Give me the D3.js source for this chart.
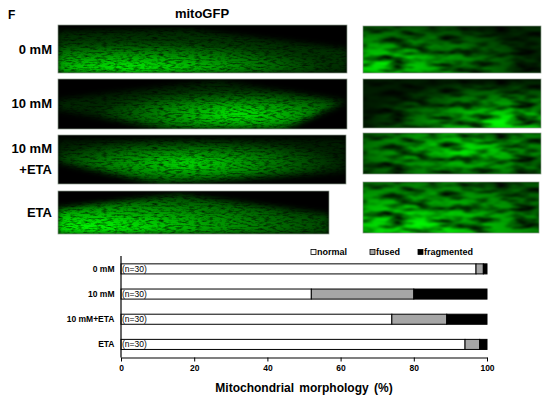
<!DOCTYPE html>
<html>
<head>
<meta charset="utf-8">
<script src="https://cdn.jsdelivr.net/npm/d3@7"></script>
<style>
  html, body { margin: 0; padding: 0; background: #fff; }
  svg { display: block; }
</style>
</head>
<body>
<div id="chart"></div>
<script>
// ---- chart data ----
const categories = ["0 mM", "10 mM", "10 mM+ETA", "ETA"];
const normal = [97, 52, 74, 94];
const fused = [2, 28, 15, 4];
const fragmented = [1, 20, 11, 2];
const nLabels = ["(n=30)", "(n=30)", "(n=30)", "(n=30)"];
const seriesNames = ["normal", "fused", "fragmented"];
const seriesColors = ["#ffffff", "#a6a6a6", "#000000"];
const xTicks = [0, 20, 40, 60, 80, 100];

// panel row labels of the micrograph part
const rowLabels = [["0 mM"], ["10 mM"], ["10 mM", "+ETA"], ["ETA"]];

(function () {
  "use strict";
  const W = 550, H = 401;
  const FONT = "'Liberation Sans', Arial, Helvetica, sans-serif";

  const svg = d3.select("#chart").append("svg")
    .attr("width", W).attr("height", H);
  const defs = svg.append("defs");

  // ---- micrograph look-alikes (decoration, not data) ----
  // soft edges + striated noise multiplied into the green glow
  function texFilter(id, freq, seed, gain, off, edge, blur) {
    const f = defs.append("filter").attr("id", id)
      .attr("x", "-5%").attr("y", "-5%").attr("width", "110%").attr("height", "110%")
      .attr("color-interpolation-filters", "sRGB");
    f.append("feGaussianBlur").attr("in", "SourceGraphic").attr("stdDeviation", edge).attr("result", "soft");
    f.append("feTurbulence").attr("type", "fractalNoise")
      .attr("baseFrequency", freq).attr("numOctaves", 3).attr("seed", seed).attr("result", "noise");
    f.append("feColorMatrix").attr("in", "noise").attr("type", "matrix")
      .attr("values", `0 0 0 0 0  ${gain} 0 0 0 ${off}  0 0 0 0 0  0 0 0 0 1`).attr("result", "g");
    f.append("feComposite").attr("in", "soft").attr("in2", "g")
      .attr("operator", "arithmetic").attr("k1", 1).attr("result", "mul");
    f.append("feGaussianBlur").attr("in", "mul").attr("stdDeviation", blur);
  }
  texFilter("texCell", "0.16 0.55", 3, 1.6, 0.1, 3, 0.6);
  texFilter("texZoom", "0.04 0.17", 7, 2.6, -0.6, 1.5, 1.0);

  const panels = [
    // whole cells
    { x: 58, y: 25, w: 289, h: 48, tex: "texCell", poly: [[0, 0.14], [0.45, 0.1], [1, 0.5], [1, 1], [0, 1]], c: [0.25, 0.95], r: 0.7, inner: "#30ff30", outer: "#06300a" },
    { x: 58, y: 79, w: 289, h: 50, tex: "texCell", poly: [[0, 0.42], [0.55, 0.03], [1, 0.45], [0.78, 1], [0.38, 1], [0, 0.62]], c: [0.62, 0.7], r: 0.5, inner: "#2ef02e", outer: "#062606" },
    { x: 58, y: 135, w: 288, h: 49, tex: "texCell", poly: [[0, 0.1], [1, 0.08], [1, 0.75], [0.36, 1], [0, 0.55]], c: [0.45, 0.55], r: 0.55, inner: "#28e028", outer: "#041e04" },
    { x: 58, y: 191, w: 271, h: 43, tex: "texCell", poly: [[0, 0.42], [0.45, 0.08], [1, 0.55], [1, 1], [0, 1]], c: [0.12, 0.85], r: 0.85, inner: "#30ff30", outer: "#0a4a0a" },
    // zoomed details
    { x: 363, y: 26, w: 178, h: 47, tex: "texZoom", poly: null, c: [0.15, 0.75], r: 0.8, inner: "#30f030", outer: "#062a06" },
    { x: 363, y: 79, w: 178, h: 49, tex: "texZoom", poly: null, c: [0.75, 0.8], r: 0.7, inner: "#32ff32", outer: "#041c04" },
    { x: 363, y: 133, w: 178, h: 41, tex: "texZoom", poly: null, c: [0.55, 0.45], r: 0.75, inner: "#2ef02e", outer: "#073007" },
    { x: 363, y: 182, w: 176, h: 51, tex: "texZoom", poly: null, c: [0.3, 0.8], r: 0.9, inner: "#34ff34", outer: "#0c560c" }
  ];

  panels.forEach((p, i) => {
    const gid = "glow" + i, cid = "clip" + i;
    const grad = defs.append("radialGradient").attr("id", gid)
      .attr("cx", p.c[0]).attr("cy", p.c[1]).attr("r", p.r);
    grad.append("stop").attr("offset", "0%").attr("stop-color", p.inner);
    grad.append("stop").attr("offset", "100%").attr("stop-color", p.outer);
    defs.append("clipPath").attr("id", cid)
      .append("rect").attr("width", p.w).attr("height", p.h);

    const g = svg.append("g").attr("transform", `translate(${p.x},${p.y})`);
    const inner = g.append("g").attr("clip-path", `url(#${cid})`);
    inner.append("rect").attr("width", p.w).attr("height", p.h).attr("fill", "#000");
    const shape = p.poly
      ? d3.line()(p.poly.map(d => [d[0] * p.w, d[1] * p.h])) + "Z"
      : `M-6,-6H${p.w + 6}V${p.h + 6}H-6Z`;
    inner.append("path").attr("d", shape)
      .attr("fill", `url(#${gid})`).attr("filter", `url(#${p.tex})`);
    g.append("rect").attr("width", p.w).attr("height", p.h)
      .attr("fill", "none").attr("stroke", "#8a9a8a").attr("stroke-width", 0.7);
  });

  // panel letter, column title, row labels
  svg.append("text").attr("x", 8).attr("y", 19)
    .attr("font-family", FONT).attr("font-weight", "bold").attr("font-size", "12px").text("F");
  svg.append("text").attr("x", 202).attr("y", 18).attr("text-anchor", "middle")
    .attr("font-family", FONT).attr("font-weight", "bold").attr("font-size", "13px").text("mitoGFP");
  const rowBase = [[53.5], [108.3], [153.3, 174], [216.7]];
  rowLabels.forEach((lines, i) => {
    lines.forEach((t, j) => {
      svg.append("text").attr("x", 52).attr("y", rowBase[i][j]).attr("text-anchor", "end")
        .attr("font-family", FONT).attr("font-weight", "bold").attr("font-size", "13px").text(t);
    });
  });

  // ---- stacked horizontal bar chart ----
  const x = d3.scaleLinear().domain([0, 100]).range([121, 487]);
  const y = d3.scaleBand().domain(categories).range([256.3, 357])
    .paddingInner(0.6).paddingOuter(0.3);

  const rows = categories.map((c, i) => ({ cat: c, normal: normal[i], fused: fused[i], fragmented: fragmented[i] }));
  const stack = d3.stack().keys(seriesNames)(rows);
  const color = d3.scaleOrdinal().domain(seriesNames).range(seriesColors);

  const chart = svg.append("g");
  stack.forEach(layer => {
    chart.append("g").selectAll("rect").data(layer).enter().append("rect")
      .attr("x", d => x(d[0]))
      .attr("y", d => y(d.data.cat))
      .attr("width", d => x(d[1]) - x(d[0]))
      .attr("height", y.bandwidth())
      .attr("fill", color(layer.key))
      .attr("stroke", "#000").attr("stroke-width", 1);
  });

  // n labels inside bars
  chart.selectAll("text.n").data(categories).enter().append("text")
    .attr("x", x(0) + 1).attr("y", d => y(d) + y.bandwidth() / 2).attr("dy", "0.35em")
    .attr("font-family", FONT).attr("font-size", "8.5px").attr("fill", "#000")
    .text((d, i) => nLabels[i]);

  // category labels
  chart.selectAll("text.cat").data(categories).enter().append("text")
    .attr("x", 114.5).attr("y", d => y(d) + y.bandwidth() / 2).attr("dy", "0.35em")
    .attr("text-anchor", "end").attr("font-family", FONT).attr("font-weight", "bold")
    .attr("font-size", "8.5px").text(d => d);

  // y axis line
  chart.append("line").attr("x1", x(0)).attr("x2", x(0)).attr("y1", 256).attr("y2", 357.5)
    .attr("stroke", "#000").attr("stroke-width", 1.2);

  // x axis
  const xAxis = chart.append("g").attr("transform", "translate(0,357.5)")
    .call(d3.axisBottom(x).tickValues(xTicks).tickSize(4).tickSizeOuter(0).tickFormat(d3.format("d")));
  xAxis.select(".domain").attr("stroke", "#000").attr("stroke-width", 1.2);
  xAxis.selectAll(".tick line").attr("stroke", "#000");
  xAxis.selectAll(".tick text").attr("font-family", FONT).attr("font-weight", "bold")
    .attr("font-size", "8.5px").attr("fill", "#000").attr("y", 7);

  chart.append("text").attr("x", (x(0) + x(100)) / 2).attr("y", 391.5).attr("text-anchor", "middle")
    .attr("font-family", FONT).attr("font-weight", "bold").attr("font-size", "12px")
    .attr("word-spacing", "2px").text("Mitochondrial morphology (%)");

  // legend
  const legendX = [311, 370, 418];
  const legend = chart.selectAll("g.leg").data(seriesNames).enter().append("g")
    .attr("transform", (d, i) => `translate(${legendX[i]},252)`);
  legend.append("rect").attr("x", 0).attr("y", -2.5).attr("width", 5).attr("height", 5)
    .attr("fill", d => color(d)).attr("stroke", "#000").attr("stroke-width", 0.8);
  legend.append("text").attr("x", 6).attr("y", 0).attr("dy", "0.35em")
    .attr("font-family", FONT).attr("font-weight", "bold").attr("font-size", "9px").text(d => d);
})();
</script>
</body>
</html>
